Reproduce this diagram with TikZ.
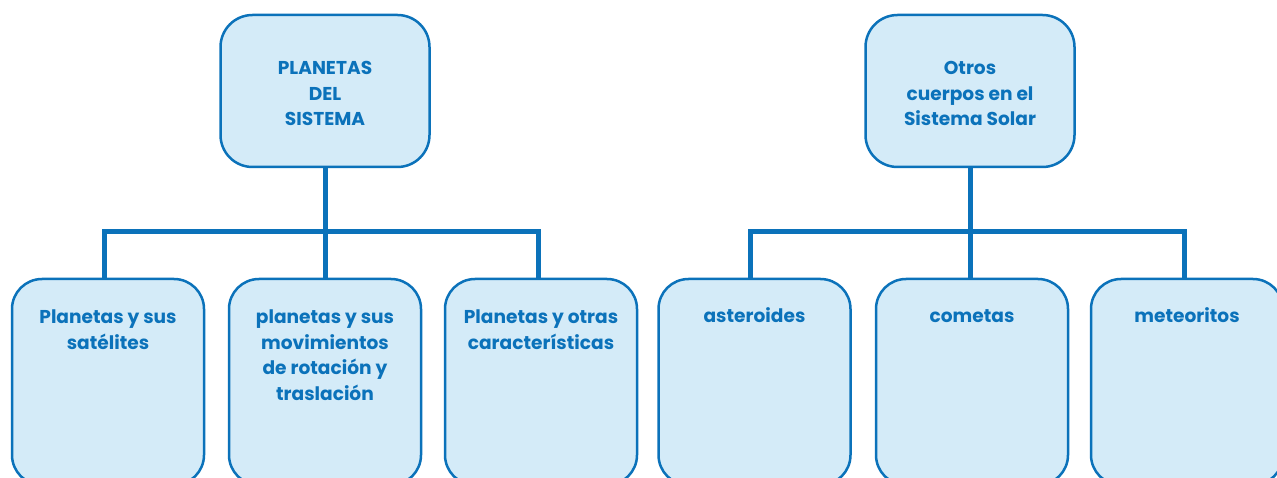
\documentclass[tikz,border=0pt]{standalone}
\usepackage{fontspec}
\setmainfont{Poppins}
\definecolor{boxblue}{HTML}{0B72BA}
\definecolor{boxfill}{HTML}{D4EBF8}
\begin{document}
\begin{tikzpicture}[x=1pt,y=-1pt,
  topbox/.style={draw=boxblue,fill=boxfill,line width=2.5pt,rounded corners=32pt,minimum width=209pt,minimum height=152pt,inner sep=0pt},
  subbox/.style={draw=boxblue,fill=boxfill,line width=2.5pt,rounded corners=30pt,minimum width=192pt,minimum height=206pt,inner sep=0pt},
  lbl/.style={text=boxblue,font=\bfseries\fontsize{18.6}{25.5}\selectfont,align=center,inner sep=0pt},
  multilbl/.style={lbl,anchor=north,execute at begin node=\strut},
  onelbl/.style={lbl,anchor=base},
  conn/.style={draw=boxblue,line width=5pt}]
\useasboundingbox (0,0) rectangle (1277,478);
\node[topbox] (t1) at (325,91) {};
\node[topbox] (t2) at (970,91) {};
\node[subbox] (b1) at (108,382) {};
\node[subbox] (b2) at (325,382) {};
\node[subbox] (b3) at (541,382) {};
\node[subbox] (b4) at (754.5,382) {};
\node[subbox] (b5) at (972,382) {};
\node[subbox] (b6) at (1187,382) {};
\coordinate (h1) at (325,232);
\coordinate (h2) at (970,232);
\draw[conn] (t1.south) -- (h1);
\draw[conn] (b1.north -| 104,0) |- (h1) -| (b3.north -| 538,0);
\draw[conn] (h1) -- (b2.north);
\draw[conn] (t2.south) -- (h2);
\draw[conn] (b4.north -| 750,0) |- (h2) -| (b6.north -| 1184,0);
\draw[conn] (h2) -- (b5.north -| h2);
\node[lbl] (l1) at ([yshift=-2.5pt]t1.center) {PLANETAS\\DEL\\SISTEMA};
\node[lbl] (l2) at ([yshift=-2.5pt]t2.center) {Otros\\cuerpos en el\\Sistema Solar};
\node[multilbl] (m1) at ([yshift=-32pt]b1.north) {Planetas y sus\\satélites};
\node[multilbl] (m2) at ([yshift=-32pt]b2.north) {planetas y sus\\movimientos\\de rotación y\\traslación};
\node[multilbl] (m3) at ([yshift=-32pt]b3.north) {Planetas y otras\\características};
\node[onelbl] (m4) at ([yshift=-45pt]b4.north) {asteroides};
\node[onelbl] (m5) at ([yshift=-45pt]b5.north) {cometas};
\node[onelbl] (m6) at ([yshift=-45pt]b6.north) {meteoritos};
\end{tikzpicture}
\end{document}
